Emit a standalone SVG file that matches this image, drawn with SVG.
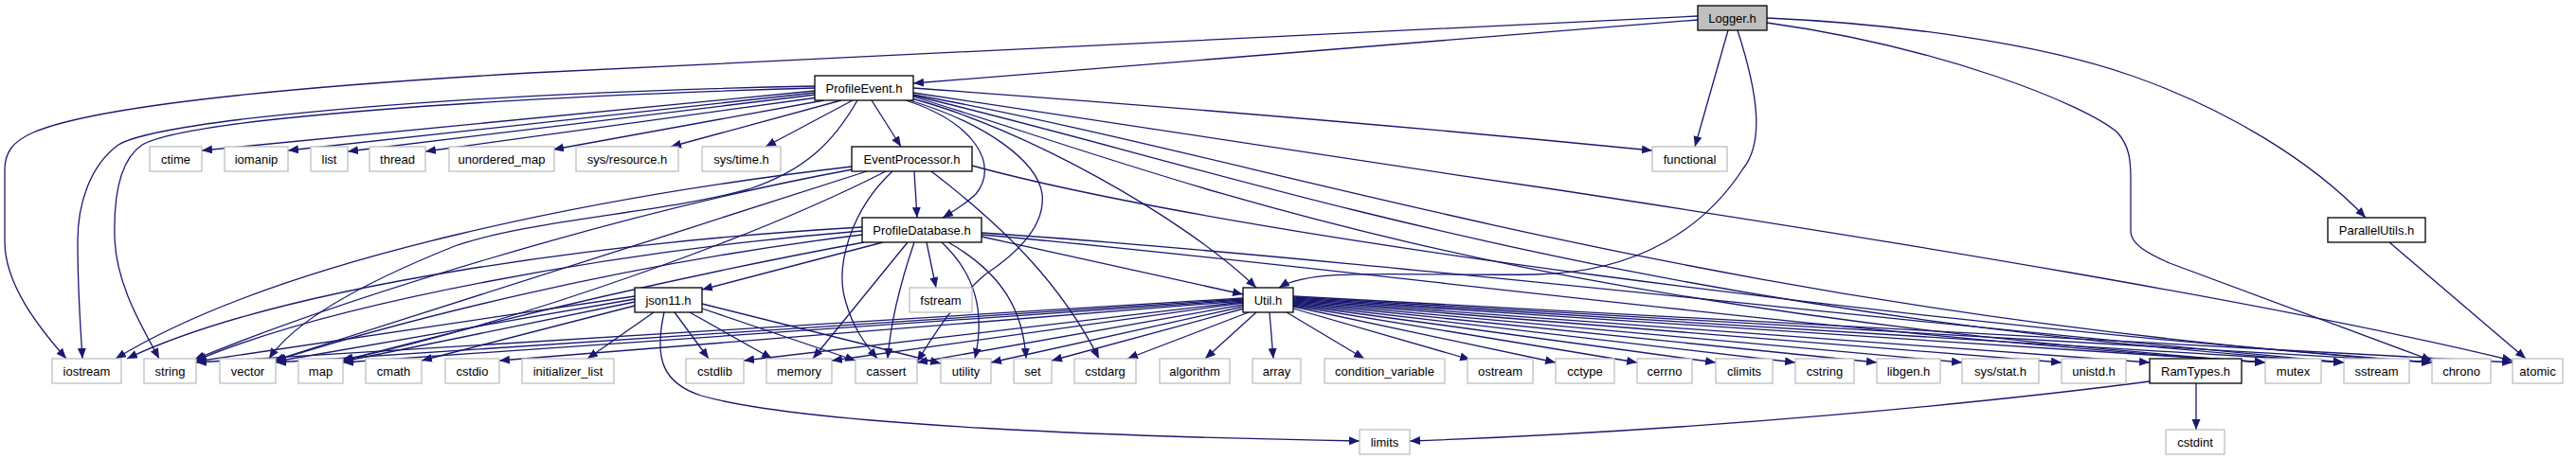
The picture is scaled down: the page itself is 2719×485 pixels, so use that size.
<svg xmlns="http://www.w3.org/2000/svg" width="2719" height="485" viewBox="0 0 2719 485">
<style>
.n rect{fill:#fff;stroke:#000;stroke-width:1.3}
.x rect{fill:#fff;stroke:#bfbfbf;stroke-width:1.3}
.r rect{fill:#bfbfbf;stroke:#000;stroke-width:1.3}
text{font-family:"Liberation Sans",Arial,Helvetica,sans-serif;font-size:13px;text-anchor:middle;fill:#000}
#edges path{fill:none;stroke:#191970;stroke-width:1.3;marker-end:url(#a)}
</style>
<defs>
<marker id="a" markerUnits="userSpaceOnUse" markerWidth="12" markerHeight="10" refX="11" refY="4.5" orient="auto"><path d="M0,0 L11,4.5 L0,9 z" fill="#191970"/></marker>
</defs>
<rect width="2719" height="485" fill="#fff"/>
<g id="edges">
<path d="M1792,21 L964,88"/>
<path d="M1792,17 L560,77 C300,92 100,112 35,140 C12,150 5,162 5,180 L5,255 C5,300 40,345 70,379"/>
<path d="M1824,32 L1789,155"/>
<path d="M1834,32 C1856,100 1862,150 1840,178 C1800,240 1730,288 1620,290 C1480,292 1385,282 1350,304"/>
<path d="M1865,19 C2000,25 2150,45 2250,80 C2350,115 2440,170 2497,230"/>
<path d="M1865,24 C2050,50 2200,110 2235,140 C2248,155 2249,170 2249,190 L2249,245 C2250,258 2265,267 2290,278 L2567,381"/>
<path d="M860,91 C500,98 170,125 125,153 C95,175 82,215 82,255 C82,310 85,345 87,379"/>
<path d="M860,93 C520,103 200,125 150,153 C125,170 120,210 121,250 C122,300 150,345 168,379"/>
<path d="M860,96 L213,159"/>
<path d="M860,98 L304,159"/>
<path d="M861,100 L367,160"/>
<path d="M863,103 L449,160"/>
<path d="M870,106 L584,158"/>
<path d="M888,106 L708,155"/>
<path d="M900,106 L808,155"/>
<path d="M920,106 L951,155"/>
<path d="M956,106 C1030,130 1055,175 1030,205 C1020,215 1005,224 995,230"/>
<path d="M905,106 C880,150 850,180 790,200 C700,225 560,232 480,260 C380,300 310,340 284,379"/>
<path d="M964,93 C1200,110 1500,135 1744,159"/>
<path d="M964,98 C1150,125 1400,165 1640,200 C2000,255 2400,320 2652,381"/>
<path d="M962,104 C1080,135 1250,230 1326,304"/>
<path d="M964,102 C1250,190 1550,320 2391,383"/>
<path d="M964,101 C1300,180 1700,330 2474,383"/>
<path d="M964,100 C1350,170 1800,330 2567,383"/>
<path d="M960,106 C1040,130 1095,170 1100,205 C1104,240 1070,270 1040,290 C1010,315 985,355 968,382"/>
<path d="M965,181 L968,230"/>
<path d="M899,176 C650,205 300,270 122,379"/>
<path d="M900,179 C650,225 350,320 205,380"/>
<path d="M915,181 C700,250 450,330 289,381"/>
<path d="M935,181 C800,250 550,340 360,381"/>
<path d="M942,181 C900,220 880,280 893,320 C900,345 912,362 926,379"/>
<path d="M983,181 C1060,240 1120,300 1160,379"/>
<path d="M1026,175 C1300,250 2000,340 2567,383"/>
<path d="M932,256 L741,306"/>
<path d="M910,240 C650,255 300,300 134,379"/>
<path d="M910,244 C650,265 350,320 207,381"/>
<path d="M910,248 C650,280 420,340 291,381"/>
<path d="M912,256 C700,295 480,350 362,381"/>
<path d="M958,256 L858,379"/>
<path d="M965,256 C950,300 940,340 937,379"/>
<path d="M978,256 L988,304"/>
<path d="M994,256 C1030,290 1040,330 1029,379"/>
<path d="M1001,256 C1060,290 1080,330 1083,379"/>
<path d="M1036,250 L1312,311"/>
<path d="M1036,246 C1400,270 2000,340 2474,383"/>
<path d="M1036,248 C1400,280 1900,350 2391,383"/>
<path d="M670,313 L207,382"/>
<path d="M670,316 L291,382"/>
<path d="M670,319 L362,382"/>
<path d="M670,323 L445,381"/>
<path d="M690,330 L620,379"/>
<path d="M712,330 L748,379"/>
<path d="M728,330 L815,379"/>
<path d="M741,326 L903,381"/>
<path d="M741,321 L993,384"/>
<path d="M701,330 C690,380 700,405 740,418 C850,450 1200,462 1435,466"/>
<path d="M1312,315 L207,383"/>
<path d="M1312,316 L291,383"/>
<path d="M1312,317 L362,383"/>
<path d="M1312,318 L527,381"/>
<path d="M1312,319 L785,381"/>
<path d="M1312,320 L878,381"/>
<path d="M1312,322 L968,383"/>
<path d="M1312,324 L1046,383"/>
<path d="M1313,326 L1110,381"/>
<path d="M1318,330 L1190,379"/>
<path d="M1326,330 L1272,379"/>
<path d="M1340,330 L1344,379"/>
<path d="M1358,330 L1440,379"/>
<path d="M1365,326 L1552,380"/>
<path d="M1365,324 L1642,383"/>
<path d="M1365,323 L1728,383"/>
<path d="M1365,322 L1811,383"/>
<path d="M1365,321 L1895,383"/>
<path d="M1365,320 L1981,383"/>
<path d="M1365,319 L2071,383"/>
<path d="M1365,318 L2176,383"/>
<path d="M1365,317 L2269,383"/>
<path d="M1365,316 L2391,383"/>
<path d="M1365,315 L2474,383"/>
<path d="M1365,314 L2567,383"/>
<path d="M1365,313 L2652,383"/>
<path d="M2318,405 L2318,454"/>
<path d="M2269,403 C2100,425 1800,455 1488,466"/>
<path d="M2522,256 L2666,379"/>
</g>
<g id="n_logger" class="r"><rect x="1792" y="6" width="73" height="26"/><text x="1828.5" y="23.5">Logger.h</text></g>
<g id="n_profileevent" class="n"><rect x="860" y="80" width="104" height="26"/><text x="912" y="97.5">ProfileEvent.h</text></g>
<g id="n_ctime" class="x"><rect x="158" y="155" width="55" height="26"/><text x="185.5" y="172.5">ctime</text></g>
<g id="n_iomanip" class="x"><rect x="237" y="155" width="67" height="26"/><text x="270.5" y="172.5">iomanip</text></g>
<g id="n_list" class="x"><rect x="328" y="155" width="39" height="26"/><text x="347.5" y="172.5">list</text></g>
<g id="n_thread" class="x"><rect x="390" y="155" width="59" height="26"/><text x="419.5" y="172.5">thread</text></g>
<g id="n_unordered_map" class="x"><rect x="474" y="155" width="111" height="26"/><text x="529.5" y="172.5">unordered_map</text></g>
<g id="n_sys_resource" class="x"><rect x="608" y="155" width="108" height="26"/><text x="662" y="172.5">sys/resource.h</text></g>
<g id="n_sys_time" class="x"><rect x="741" y="155" width="83" height="26"/><text x="782.5" y="172.5">sys/time.h</text></g>
<g id="n_eventprocessor" class="n"><rect x="899" y="155" width="127" height="26"/><text x="962.5" y="172.5">EventProcessor.h</text></g>
<g id="n_functional" class="x"><rect x="1744" y="155" width="79" height="26"/><text x="1783.5" y="172.5">functional</text></g>
<g id="n_profiledatabase" class="n"><rect x="910" y="230" width="126" height="26"/><text x="973" y="247.5">ProfileDatabase.h</text></g>
<g id="n_parallelutils" class="n"><rect x="2457" y="230" width="103" height="26"/><text x="2508.5" y="247.5">ParallelUtils.h</text></g>
<g id="n_json11" class="n"><rect x="670" y="304" width="71" height="26"/><text x="705.5" y="321.5">json11.h</text></g>
<g id="n_fstream" class="x"><rect x="960" y="304" width="66" height="26"/><text x="993" y="321.5">fstream</text></g>
<g id="n_util" class="n"><rect x="1312" y="304" width="53" height="26"/><text x="1338.5" y="321.5">Util.h</text></g>
<g id="n_iostream" class="x"><rect x="55" y="379" width="73" height="26"/><text x="91.5" y="396.5">iostream</text></g>
<g id="n_string" class="x"><rect x="152" y="379" width="55" height="26"/><text x="179.5" y="396.5">string</text></g>
<g id="n_vector" class="x"><rect x="232" y="379" width="59" height="26"/><text x="261.5" y="396.5">vector</text></g>
<g id="n_map" class="x"><rect x="315" y="379" width="47" height="26"/><text x="338.5" y="396.5">map</text></g>
<g id="n_cmath" class="x"><rect x="386" y="379" width="59" height="26"/><text x="415.5" y="396.5">cmath</text></g>
<g id="n_cstdio" class="x"><rect x="470" y="379" width="57" height="26"/><text x="498.5" y="396.5">cstdio</text></g>
<g id="n_initializer_list" class="x"><rect x="551" y="379" width="97" height="26"/><text x="599.5" y="396.5">initializer_list</text></g>
<g id="n_cstdlib" class="x"><rect x="724" y="379" width="61" height="26"/><text x="754.5" y="396.5">cstdlib</text></g>
<g id="n_memory" class="x"><rect x="809" y="379" width="69" height="26"/><text x="843.5" y="396.5">memory</text></g>
<g id="n_cassert" class="x"><rect x="903" y="379" width="65" height="26"/><text x="935.5" y="396.5">cassert</text></g>
<g id="n_utility" class="x"><rect x="993" y="379" width="53" height="26"/><text x="1019.5" y="396.5">utility</text></g>
<g id="n_set" class="x"><rect x="1070" y="379" width="40" height="26"/><text x="1090" y="396.5">set</text></g>
<g id="n_cstdarg" class="x"><rect x="1134" y="379" width="65" height="26"/><text x="1166.5" y="396.5">cstdarg</text></g>
<g id="n_algorithm" class="x"><rect x="1224" y="379" width="74" height="26"/><text x="1261" y="396.5">algorithm</text></g>
<g id="n_array" class="x"><rect x="1322" y="379" width="51" height="26"/><text x="1347.5" y="396.5">array</text></g>
<g id="n_condition_variable" class="x"><rect x="1398" y="379" width="127" height="26"/><text x="1461.5" y="396.5">condition_variable</text></g>
<g id="n_ostream" class="x"><rect x="1549" y="379" width="69" height="26"/><text x="1583.5" y="396.5">ostream</text></g>
<g id="n_cctype" class="x"><rect x="1642" y="379" width="62" height="26"/><text x="1673" y="396.5">cctype</text></g>
<g id="n_cerrno" class="x"><rect x="1728" y="379" width="58" height="26"/><text x="1757" y="396.5">cerrno</text></g>
<g id="n_climits" class="x"><rect x="1811" y="379" width="60" height="26"/><text x="1841" y="396.5">climits</text></g>
<g id="n_cstring" class="x"><rect x="1895" y="379" width="62" height="26"/><text x="1926" y="396.5">cstring</text></g>
<g id="n_libgen" class="x"><rect x="1981" y="379" width="67" height="26"/><text x="2014.5" y="396.5">libgen.h</text></g>
<g id="n_sys_stat" class="x"><rect x="2071" y="379" width="81" height="26"/><text x="2111.5" y="396.5">sys/stat.h</text></g>
<g id="n_unistd" class="x"><rect x="2176" y="379" width="68" height="26"/><text x="2210" y="396.5">unistd.h</text></g>
<g id="n_ramtypes" class="n"><rect x="2269" y="379" width="97" height="26"/><text x="2317.5" y="396.5">RamTypes.h</text></g>
<g id="n_mutex" class="x"><rect x="2391" y="379" width="59" height="26"/><text x="2420.5" y="396.5">mutex</text></g>
<g id="n_sstream" class="x"><rect x="2474" y="379" width="69" height="26"/><text x="2508.5" y="396.5">sstream</text></g>
<g id="n_chrono" class="x"><rect x="2567" y="379" width="62" height="26"/><text x="2598" y="396.5">chrono</text></g>
<g id="n_atomic" class="x"><rect x="2652" y="379" width="53" height="26"/><text x="2678.5" y="396.5">atomic</text></g>
<g id="n_limits" class="x"><rect x="1435" y="454" width="53" height="26"/><text x="1461.5" y="471.5">limits</text></g>
<g id="n_cstdint" class="x"><rect x="2286" y="454" width="62" height="26"/><text x="2317" y="471.5">cstdint</text></g>
</svg>
